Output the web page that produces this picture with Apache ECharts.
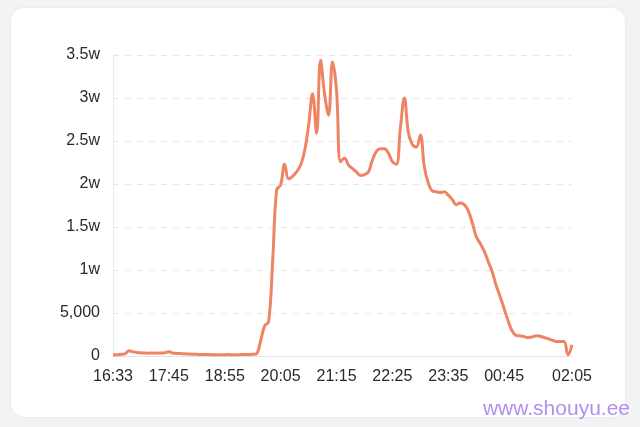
<!DOCTYPE html>
<html>
<head>
<meta charset="utf-8">
<script src="https://cdn.jsdelivr.net/npm/echarts@6/dist/echarts.min.js"></script>
<style>
  html, body { margin: 0; padding: 0; background: #f3f3f3; width: 640px; height: 427px; overflow: hidden; }
  #card { position: absolute; left: 11px; top: 8px; width: 614px; height: 409px; background: #fff; border-radius: 14px; box-shadow: 0 0 4px rgba(0,0,0,0.06); }
  #chart { position: absolute; left: 0; top: 0; width: 640px; height: 427px; }
</style>
</head>
<body>
<div id="card"></div>
<div id="chart"></div>
<script>
// Sample times (categories)
const times = [
  '16:33','16:38','16:43','16:48','16:53','16:58','17:03','17:08','17:13','17:18','17:24','17:29','17:34','17:40',
  '17:45','17:50','17:55','18:00','18:05','18:10','18:15','18:20','18:25','18:30','18:35','18:40','18:45','18:50',
  '18:55','19:00','19:05','19:10','19:15','19:20','19:25','19:30','19:35','19:40','19:45','19:50','19:55','20:00',
  '20:05','20:10','20:15','20:20','20:25','20:30','20:35','20:40','20:45','20:50','20:55','21:00','21:05','21:10',
  '21:15','21:20','21:25','21:30','21:35','21:40','21:45','21:50','21:55','22:00','22:05','22:10','22:15','22:20',
  '22:25','22:30','22:35','22:40','22:45','22:50','22:55','23:00','23:05','23:10','23:15','23:20','23:25','23:30',
  '23:35','23:40','23:45','23:50','23:55','00:00','00:05','00:10','00:15','00:20','00:25','00:30','00:35','00:40',
  '00:45','00:50','00:55','01:00','01:05','01:10','01:15','01:20','01:25','01:30','01:35','01:40','01:45',
  '01:49','01:53','01:57','02:01','02:05'
];
// Tick labels shown on the x axis
const tickLabels = ['16:33','17:45','18:55','20:05','21:15','22:25','23:35','00:45','02:05'];
// Series values
const values = [
  150,150,200,250,600,480,420,380,350,330,340,330,350,380,
  500,330,300,280,260,220,200,190,180,170,160,150,150,140,
  150,160,150,150,160,170,180,200,300,1800,3500,4000,11000,19300,
  19900,22300,20600,20900,21400,22200,23800,26800,30500,25900,34400,30500,
  28000,34200,30900,22600,23000,22200,21800,21400,21000,21100,21400,22800,
  23800,24100,24100,23600,22600,22300,26500,30000,26000,24600,24300,25700,
  22000,20100,19200,19100,19000,19100,18700,18200,17600,17800,17600,16900,
  15500,13900,13100,12200,11000,9800,8200,6900,5500,4100,2900,2400,
  2330,2250,2150,2200,2350,2300,2150,2000,1850,1700,1700,1700,150,1300
];
// Y axis ticks
const yTicks = [0, 5000, 10000, 15000, 20000, 25000, 30000, 35000];

function fmtY(v) {
  if (v === 0) return '0';
  if (v < 10000) return v.toLocaleString('en-US');
  return (v / 10000) + 'w';
}

const chart = echarts.init(document.getElementById('chart'), null, { renderer: 'canvas' });
chart.setOption({
  animation: false,
  grid: { left: 113, right: 68, top: 55, bottom: 71, containLabel: false },
  xAxis: {
    type: 'category',
    data: times,
    boundaryGap: false,
    axisLine: { show: true, lineStyle: { color: '#e4e4e4', width: 1 } },
    axisTick: { show: false },
    axisLabel: {
      margin: 13,
      color: '#2a2a2a',
      fontSize: 16,
      fontFamily: 'Liberation Sans, Arial, sans-serif',
      interval: function (idx, val) { return tickLabels.indexOf(val) >= 0; },
      showMaxLabel: true
    },
    splitLine: { show: false }
  },
  yAxis: {
    type: 'value',
    min: yTicks[0],
    max: yTicks[yTicks.length - 1],
    interval: 5000,
    axisLine: { show: true, lineStyle: { color: '#ececec', width: 1 } },
    axisTick: { show: false },
    axisLabel: {
      margin: 13,
      color: '#2a2a2a',
      fontSize: 16,
      fontFamily: 'Liberation Sans, Arial, sans-serif',
      formatter: fmtY
    },
    splitLine: { show: true, lineStyle: { color: '#e6e6e6', type: [6, 6], width: 1 } }
  },
  series: [{
    type: 'line',
    data: values,
    smooth: 0.4,
    symbol: 'none',
    lineStyle: { color: '#ef8465', width: 3 },
    itemStyle: { color: '#ef8465' }
  }],
  graphic: [{
    type: 'text',
    right: 10,
    top: 399,
    style: {
      text: 'www.shouyu.ee',
      fill: '#b48cf2',
      fontSize: 21,
      fontFamily: 'Liberation Sans, Arial, sans-serif'
    }
  }]
});
</script>
</body>
</html>
